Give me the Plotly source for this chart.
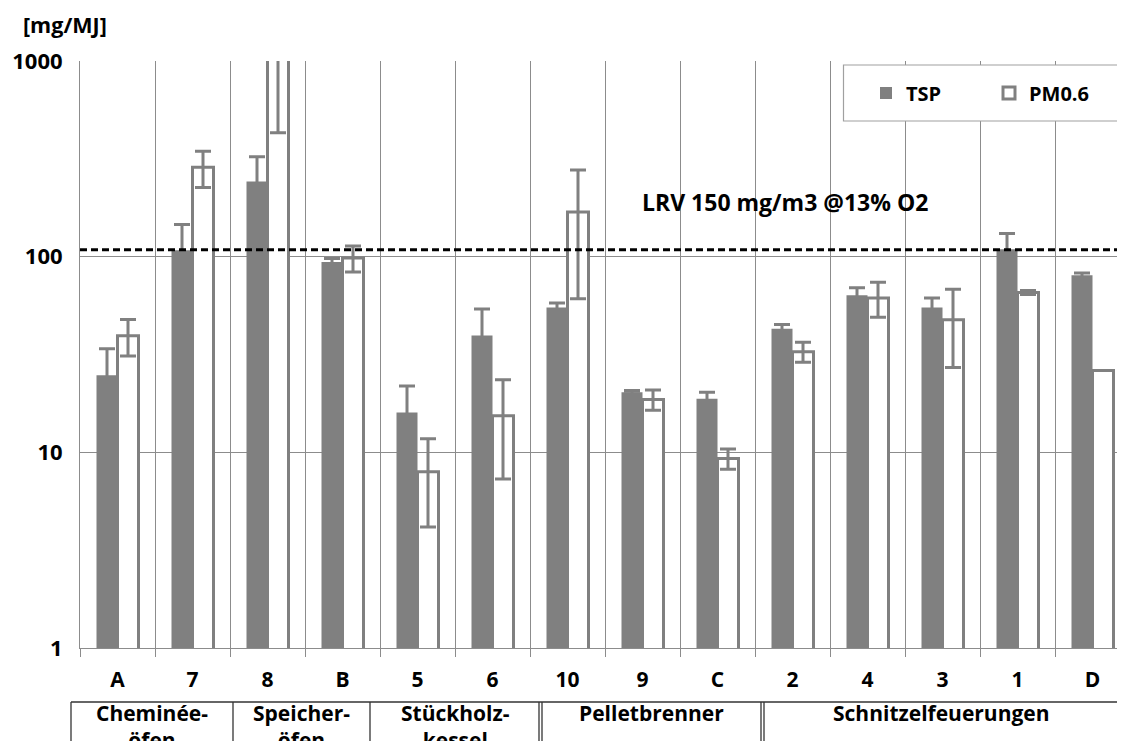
import plotly.graph_objects as go

# --- data ---
categories = ["A", "7", "8", "B", "5", "6", "10", "9", "C", "2", "4", "3", "1", "D"]
tsp = [24.8, 108, 242, 94, 16.0, 39.6, 55, 20.3, 18.8, 42.8, 63.5, 55, 109, 80.4]
tsp_err = [9, 38, 82, 4, 5.8, 14.4, 3, 0.4, 1.5, 2.2, 5.8, 6.5, 22.5, 2.2]
pm06 = [39.4, 286, 1300, 98.5, 7.95, 15.4, 169, 18.6, 9.3, 32.7, 61.5, 47.6, 65.6, 26.2]
pm06_err = [8.3, 60, 870, 15, 3.8, 8.1, 108, 2.2, 1.1, 3.8, 12.5, 20.5, 1.5, 0]
limit_value = 108.5
limit_label = "LRV 150 mg/m3 @13% O2"
group_names = ["Cheminée-<br>öfen", "Speicher-<br>öfen", "Stückholz-<br>kessel",
               "Pelletbrenner", "Schnitzelfeuerungen"]
group_sizes = [2, 2, 2, 3, 5]
y_ticks = [1, 10, 100, 1000]

# --- layout constants (screen pixels; the html body adds an 8px margin) ---
# figure sized so the page does not overflow the 1125x749 window
OFF = 8
W, H = 1125 - 2 * OFF, 749 - 2 * OFF
PLOT_L, PLOT_R, PLOT_T, PLOT_B = 80, 1125 - OFF, 61, 648
CAT_PX = 75
GRAY = "#808080"
GRID = "#8c8c8c"
FAMILY = "Open Sans, Noto Sans, sans-serif"


def font(size):
    return dict(family=FAMILY, size=size, color="#000000", weight=700)


# the category table below the axis is slightly offset from the category grid
GROUP_BOX_EDGES_PX = [71, 233, 370, 540.5, 762.5, 1120]
GROUP_BOX_DOUBLE = [False, False, False, True, True, False]
BOX_TOP_PX = 702


def px_x(px):
    return (px - PLOT_L) / (PLOT_R - PLOT_L)


def px_y(py):
    return (PLOT_B - py) / (PLOT_B - PLOT_T)


fig = go.Figure()
fig.add_trace(go.Bar(
    x=categories, y=tsp, name="TSP",
    marker=dict(color=GRAY, line=dict(width=0)),
    error_y=dict(type="data", array=tsp_err, color=GRAY, thickness=3, width=8),
))
fig.add_trace(go.Bar(
    x=categories, y=pm06, name="PM0.6",
    marker=dict(color="white", line=dict(color=GRAY, width=3)),
    error_y=dict(type="data", array=pm06_err, color=GRAY, thickness=3, width=8),
))

shapes = []
# limit value line
shapes.append(dict(type="line", xref="paper", yref="y", x0=0, x1=1,
                   y0=limit_value, y1=limit_value, layer="above",
                   line=dict(color="black", width=3, dash="7px,4px")))
# legend frame (hides the grid behind it), open towards the cut right edge
shapes.append(dict(type="rect", xref="paper", yref="paper",
                   x0=px_x(843.5), x1=px_x(1160), y0=px_y(121), y1=px_y(65),
                   fillcolor="white", line=dict(color="#a0a0a0", width=1.2), layer="above"))

# category table
shapes.append(dict(type="line", xref="paper", yref="paper",
                   x0=px_x(GROUP_BOX_EDGES_PX[0]), x1=px_x(1160),
                   y0=px_y(BOX_TOP_PX), y1=px_y(BOX_TOP_PX),
                   line=dict(color="#333333", width=1.3)))
for edge, dbl in zip(GROUP_BOX_EDGES_PX[:-1], GROUP_BOX_DOUBLE):
    offsets = [-1.5, 1.5] if dbl else [0]
    for off in offsets:
        shapes.append(dict(type="line", xref="paper", yref="paper",
                           x0=px_x(edge + off), x1=px_x(edge + off),
                           y0=px_y(BOX_TOP_PX), y1=px_y(800),
                           line=dict(color="#333333", width=1.3)))

annotations = [
    dict(text="[mg/MJ]", xref="paper", yref="paper", x=px_x(21), y=px_y(25),
         xanchor="left", yanchor="middle", showarrow=False, font=font(21.5)),
    dict(text=limit_label, xref="paper", yref="paper", x=px_x(640), y=px_y(202),
         xanchor="left", yanchor="middle", showarrow=False, font=font(23)),
]
for i, name in enumerate(group_names):
    left, right = GROUP_BOX_EDGES_PX[i], GROUP_BOX_EDGES_PX[i + 1]
    annotations.append(dict(text=name, xref="paper", yref="paper",
                            x=px_x((left + right) / 2), y=px_y(BOX_TOP_PX - 5),
                            xanchor="center", yanchor="top", showarrow=False,
                            font=font(21)))

fig.update_layout(
    width=W, height=H,
    margin=dict(l=PLOT_L - OFF, r=W - (PLOT_R - OFF), t=PLOT_T - OFF, b=H - (PLOT_B - OFF)),
    paper_bgcolor="white", plot_bgcolor="white",
    barmode="group", bargap=0.44, bargroupgap=0,
    font=font(21),
    shapes=shapes,
    annotations=annotations,
    legend=dict(orientation="h", x=px_x(866), y=px_y(93), xanchor="left", yanchor="middle",
                bgcolor="rgba(0,0,0,0)", borderwidth=0, font=font(20),
                entrywidth=78, entrywidthmode="pixels"),
)
fig.update_xaxes(
    type="category", range=[-0.5, -0.5 + (PLOT_R - PLOT_L) / CAT_PX],
    tickson="boundaries", showgrid=True, gridcolor=GRID, gridwidth=1,
    ticks="outside", ticklen=8, tickcolor=GRID, tickwidth=1,
    showline=True, linecolor=GRID, linewidth=1,
    tickfont=font(21), ticklabelstandoff=13,
)
fig.update_yaxes(
    type="log", range=[0, 3], tickvals=y_ticks, ticktext=[str(v) for v in y_ticks],
    showgrid=True, gridcolor=GRID, gridwidth=1, zeroline=False,
    showline=True, linecolor=GRID, linewidth=1,
    tickfont=font(22), ticks="", ticklabelstandoff=12,
)

fig.write_html("out.html")
